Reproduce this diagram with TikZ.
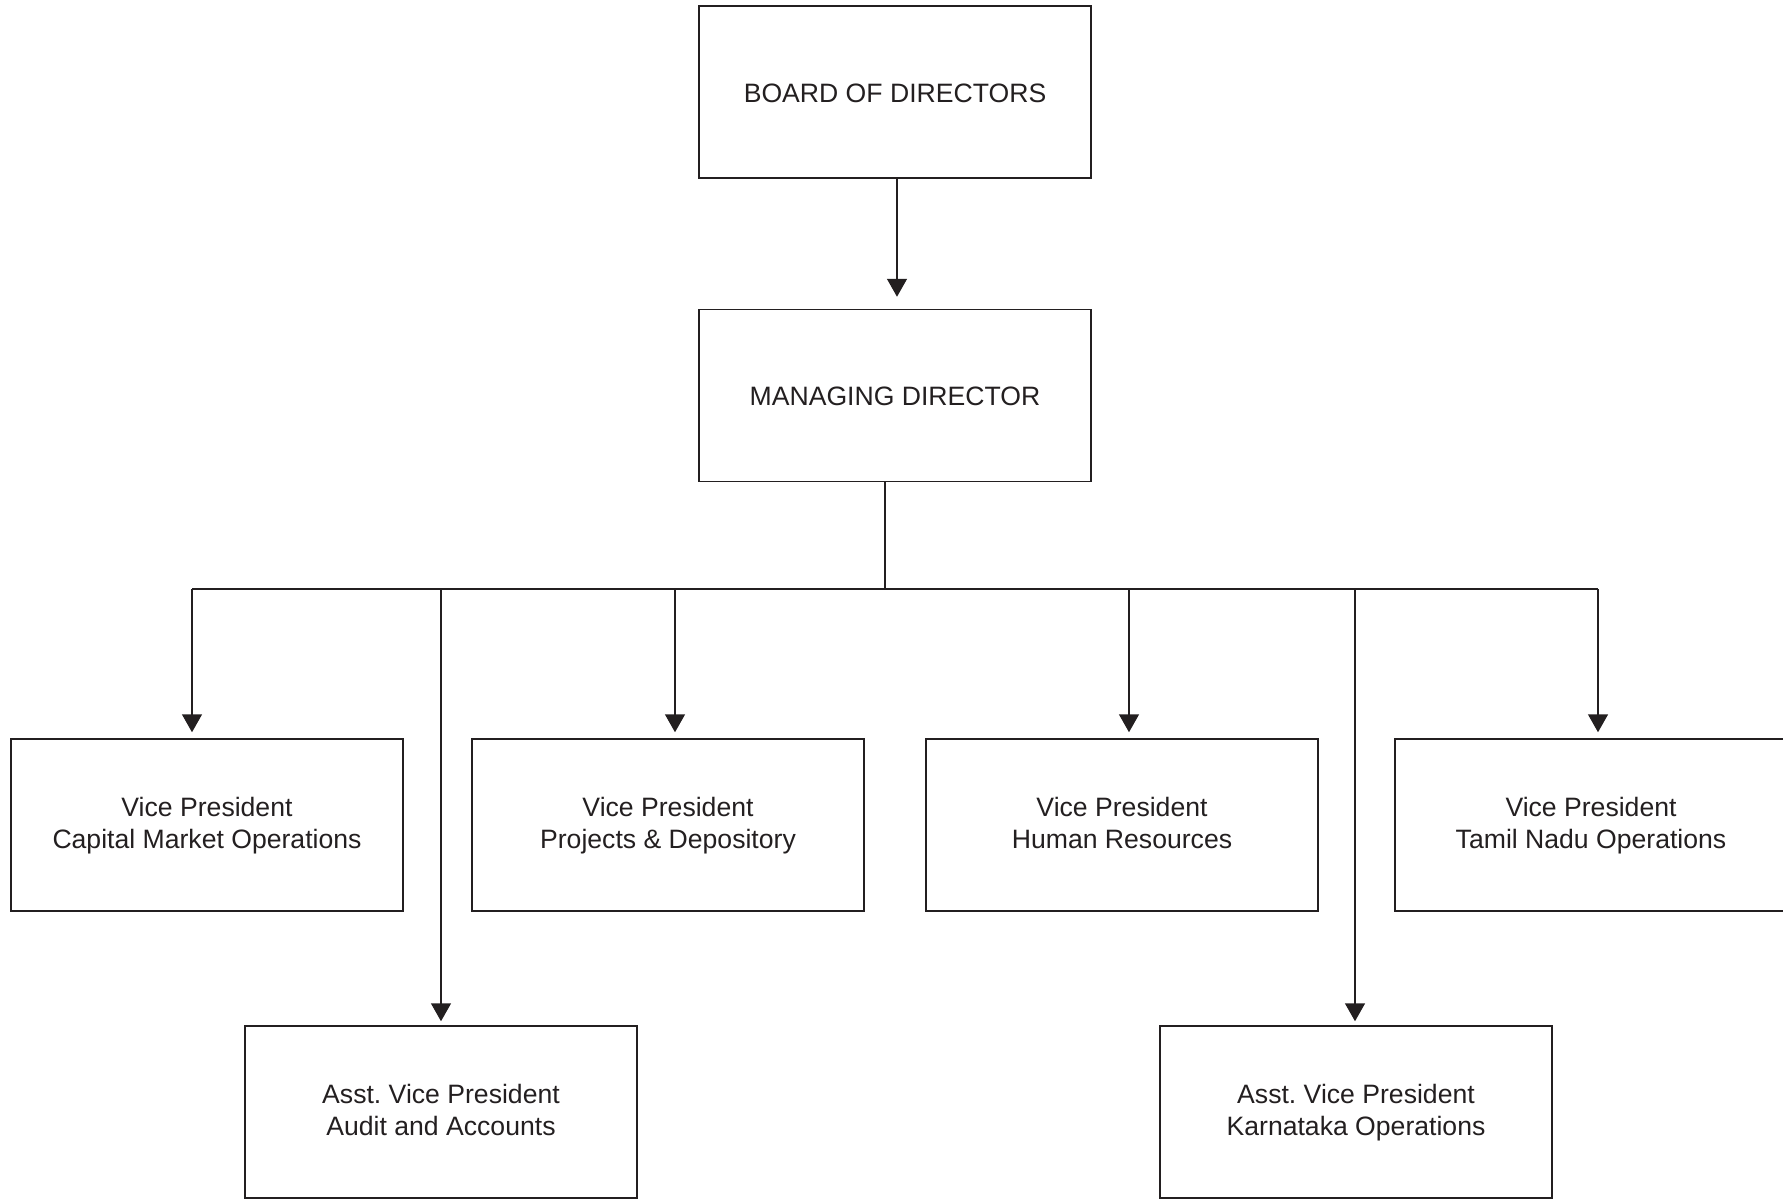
\documentclass[tikz,border=0pt]{standalone}
\usepackage{fontspec}
\setmainfont{Liberation Sans}
\usetikzlibrary{arrows.meta,positioning}
\usepackage{xcolor}
\definecolor{ink}{HTML}{231F20}
\frenchspacing

\begin{document}
\begin{tikzpicture}[x=0.5pt,y=-0.5pt,
    box/.style={draw=ink,line width=0.75pt,text=ink,align=center,minimum width=196pt,minimum height=86pt,inner sep=0pt,font=\fontsize{13.3}{16}\selectfont,text height=27pt,text depth=4pt},
    topbox/.style={box,text height=11pt,text depth=1pt},
    link/.style={draw=ink,line width=0.75pt},
    arr/.style={link,-{Triangle[length=9pt,width=10pt]}}]
    \useasboundingbox (0,0) rectangle (1783,1199);
    \node (board) [topbox] at (895,92) {BOARD OF DIRECTORS};
    \node (md) [topbox,below=65pt of board] {MANAGING DIRECTOR};
    \node (vp1) [box] at (207,825) {Vice President\\Capital Market Operations};
    \node (vp2) [box] at (668,825) {Vice President\\Projects \& Depository};
    \node (vp3) [box] at (1122,825) {Vice President\\Human Resources};
    \node (vp4) [box] at (1591,825) {Vice President\\Tamil Nadu Operations};
    \node (avp1) [box] at (441,1112) {Asst. Vice President\\Audit and Accounts};
    \node (avp2) [box] at (1356,1112) {Asst. Vice President\\Karnataka Operations};
    % bus under the managing director
    \coordinate (hub) at (885,589);
    \coordinate (b1) at (192,589);
    \coordinate (b2) at (441,589);
    \coordinate (b3) at (675,589);
    \coordinate (b4) at (1129,589);
    \coordinate (b5) at (1355,589);
    \coordinate (b6) at (1598,589);
    \draw[arr,shorten >=6pt] ([xshift=1pt]board.south) -- ([xshift=1pt]md.north);
    \draw[link] (md.south -| hub) -- (hub);
    \draw[link] (b1) -- (b6);
    \draw[arr,shorten >=3pt] (b1) -- (b1 |- vp1.north);
    \draw[arr,shorten >=3pt] (b3) -- (b3 |- vp2.north);
    \draw[arr,shorten >=3pt] (b4) -- (b4 |- vp3.north);
    \draw[arr,shorten >=3pt] (b6) -- (b6 |- vp4.north);
    \draw[arr,shorten >=2pt] (b2) -- (b2 |- avp1.north);
    \draw[arr,shorten >=2pt] (b5) -- (b5 |- avp2.north);
\end{tikzpicture}
\end{document}
